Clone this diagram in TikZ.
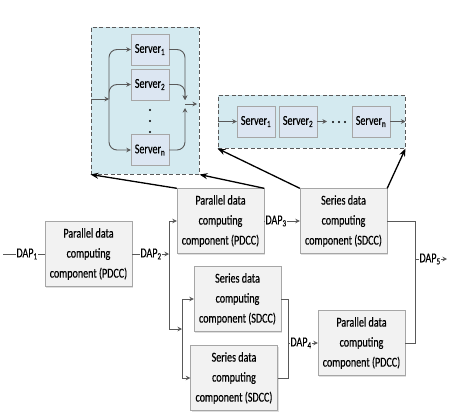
\documentclass[tikz,border=0pt]{standalone}
\usepackage{fontspec}
\setmainfont[FakeStretch=0.74,FakeBold=0.3]{Carlito}
\usetikzlibrary{arrows.meta,shadows}
\definecolor{boxline}{HTML}{A6A6A6}
\definecolor{boxfill}{HTML}{F2F2F2}
\definecolor{srvfill}{HTML}{DCE6F2}
\definecolor{poolfill}{HTML}{D4EAF0}
\definecolor{wire}{HTML}{595959}
\begin{document}
\begin{tikzpicture}[x=1pt,y=-1pt,font=\fontsize{13.6}{20}\selectfont,
    comp/.style={draw=boxline, fill=boxfill, minimum width=87pt, minimum height=65pt,
        inner sep=2pt, align=center,
        drop shadow={opacity=0.25, shadow xshift=1pt, shadow yshift=-1pt}},
    srv/.style={draw=boxline, fill=srvfill, minimum width=38pt, minimum height=31pt, inner sep=1pt},
    pool/.style={draw=wire, fill=poolfill, line width=1pt, dash pattern=on 4pt off 2.5pt, inner sep=0pt},
    dap/.style={inner sep=0.5pt},
    wire/.style={draw=wire, line width=0.9pt},
    flow/.style={wire, -{Stealth[length=4.5pt,width=4.5pt]}},
    point/.style={draw=black, line width=1.3pt, -{Stealth[length=8pt,width=6pt]}}]
    \useasboundingbox (0,0) rectangle (457,415);

    % parallel pool
    \node[pool, minimum width=108pt, minimum height=147pt] (par) at (145,100.5) {};
    \node[srv] (p1) at (150,49.5) {Server\textsubscript{1}};
    \node[srv] (p2) at (150,84.5) {Server\textsubscript{2}};
    \node[srv] (pn) at (150,150) {Server\textsubscript{n}};
    \foreach \y in {110,121,132}
        \fill (150,\y) circle (1.2pt);
    \coordinate (pin) at (91,99);
    \coordinate (pfork) at (109,99);
    \coordinate (pjt) at (185,100);
    \coordinate (pjb) at (185,108);
    \coordinate (pjo) at (185,104);
    \coordinate (pout) at (197,104);
    \draw[flow] (pin) -- (pfork);
    \draw[flow, rounded corners=8pt] (pfork) |- (p1.west);
    \draw[flow, rounded corners=8pt] (pfork) |- (p2.west);
    \draw[flow, rounded corners=8pt] (pfork) |- (pn.west);
    \draw[flow, rounded corners=8pt] (p1.east) -| (pjt);
    \draw[flow, rounded corners=8pt] (p2.east) -| (pjt);
    \draw[flow, rounded corners=8pt] (pn.east) -| (pjb);
    \draw[flow] (pjo) -- (pout);

    % series pool
    \node[pool, minimum width=187pt, minimum height=53pt] (ser) at (311.5,121.5) {};
    \node[srv] (s1) at (256,121.5) {Server\textsubscript{1}};
    \node[srv] (s2) at (298,121.5) {Server\textsubscript{2}};
    \node[srv] (sn) at (371,121.5) {Server\textsubscript{n}};
    \foreach \x in {333,339,345}
        \fill (\x,122) circle (1.1pt);
    \coordinate (sgap) at (327,121.5);
    \draw[flow] (ser.west) -- (s1);
    \draw[flow] (s2) -- (sgap);
    \draw[flow] (sn) -- (ser.east);

    % components
    \node[comp] (pdccA) at (88.5,254) {Parallel data\\computing\\component (PDCC)};
    \node[comp] (pdccB) at (220.5,221) {Parallel data\\computing\\component (PDCC)};
    \node[comp] (sdccA) at (343.5,221) {Series data\\computing\\component (SDCC)};
    \node[comp] (sdccB) at (237.5,299) {Series data\\computing\\component (SDCC)};
    \node[comp] (sdccC) at (234,378) {Series data\\computing\\component (SDCC)};
    \node[comp] (pdccC) at (361.5,343) {Parallel data\\computing\\component (PDCC)};

    % DAP1 and DAP2
    \coordinate (in) at (3,254);
    \node[dap] (dap1) at (27,254) {DAP\textsubscript{1}};
    \draw[wire] (in) -- (dap1);
    \draw[wire] (dap1) -- (pdccA);
    \node[dap] (dap2) at (151,254) {DAP\textsubscript{2}};
    \coordinate (t1) at (169,254);
    \coordinate (t1top) at (169,221);
    \coordinate (t1bot) at (169,329);
    \coordinate (t2top) at (182,299);
    \coordinate (t2mid) at (182,329);
    \coordinate (t2bot) at (182,378);
    \draw[wire] (pdccA) -- (dap2);
    \draw[flow] (dap2) -- (t1);
    \draw[wire] (t1top) -- (t1bot);
    \draw[flow] (t1top) -- (pdccB);
    \draw[flow] (t1bot) -- (t2mid);
    \draw[wire] (t2top) -- (t2bot);
    \draw[flow] (t2top) -- (sdccB);
    \draw[flow] (t2bot) -- (sdccC);

    % DAP3
    \node[dap] (dap3) at (276,221) {DAP\textsubscript{3}};
    \draw[wire] (pdccB) -- (dap3);
    \draw[flow] (dap3) -- (sdccA);

    % DAP4
    \coordinate (m4a) at (288,299);
    \coordinate (m4b) at (288,378);
    \coordinate (m4c) at (288,343);
    \node[dap] (dap4) at (301,343) {DAP\textsubscript{4}};
    \draw[wire] (sdccB) -- (m4a) -- (m4b) -- (sdccC);
    \draw[wire] (m4c) -- (dap4);
    \draw[flow] (dap4) -- (pdccC);

    % DAP5
    \coordinate (m5a) at (415,221);
    \coordinate (m5b) at (415,343);
    \coordinate (m5c) at (415,259);
    \coordinate (out) at (447,259);
    \node[dap] (dap5) at (430,259) {DAP\textsubscript{5}};
    \draw[wire] (sdccA) -- (m5a) -- (m5b) -- (pdccC);
    \draw[wire] (m5c) -- (dap5);
    \draw[flow] (dap5) -- (out);

    % pointers to the pools
    \draw[point] (pdccB.north west) -- (par.south west);
    \draw[point] (pdccB.north east) -- (par.south east);
    \draw[point] (sdccA.north west) -- (ser.south west);
    \draw[point] (sdccA.north east) -- (ser.south east);
\end{tikzpicture}
\end{document}
